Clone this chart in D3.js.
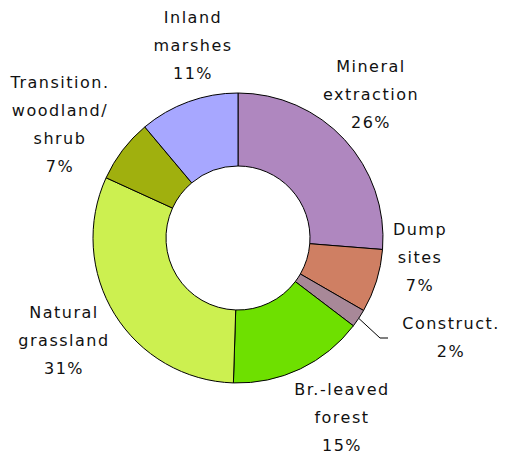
<!DOCTYPE html>
<html>
<head>
<meta charset="utf-8">
<script src="https://cdn.jsdelivr.net/npm/d3@7"></script>
<style>
  html, body { margin: 0; padding: 0; background: #fff; }
  svg { display: block; }
  text { font-family: "DejaVu Sans", Verdana, sans-serif; font-size: 16px; letter-spacing: 1.5px; fill: #111; }
</style>
</head>
<body>
<svg id="chart" width="506" height="456"></svg>
<script>
// Data
const categories = ["Mineral extraction", "Dump sites", "Construct.", "Br.-leaved forest", "Natural grassland", "Transition. woodland/shrub", "Inland marshes"];
const values = [26, 7, 2, 15, 31, 7, 11];
const labelLines = [
  ["Mineral", "extraction", "26%"],
  ["Dump", "sites", "7%"],
  ["Construct.", "2%"],
  ["Br.-leaved", "forest", "15%"],
  ["Natural", "grassland", "31%"],
  ["Transition.", "woodland/", "shrub", "7%"],
  ["Inland", "marshes", "11%"]
];
const colors = ["#AF87BF", "#CF7F63", "#A88898", "#6EE000", "#CCF050", "#A0B00E", "#A7A7FF"];

// Layout
const cx = 238, cy = 238, rOuter = 145, rInner = 72;
const lineH = 28;
// label anchor (center x, baseline of first line)
const labelPos = [
  [371, 72], [420, 235], [451, 329], [342, 395], [64, 318], [60, 88], [193, 23]
];

const svg = d3.select("#chart");
const g = svg.append("g").attr("transform", `translate(${cx},${cy})`);

const pie = d3.pie().sort(null).value(d => d).startAngle(0).endAngle(2 * Math.PI);
const arcs = pie(values);
const arc = d3.arc().innerRadius(rInner).outerRadius(rOuter);

g.selectAll("path.slice")
  .data(arcs)
  .join("path")
  .attr("class", "slice")
  .attr("d", arc)
  .attr("fill", (d, i) => colors[i])
  .attr("stroke", "#000")
  .attr("stroke-width", 1);

// Leader line for the small "Construct." slice
const ci = 2;
const a = (arcs[ci].startAngle + arcs[ci].endAngle) / 2;
const p0 = [cx + rOuter * Math.sin(a), cy - rOuter * Math.cos(a)];
svg.append("polyline")
  .attr("points", `${p0[0]},${p0[1]} 380,338 388,338`)
  .attr("fill", "none")
  .attr("stroke", "#000")
  .attr("stroke-width", 1);

// Labels
labelLines.forEach((lines, i) => {
  const t = svg.append("text")
    .attr("text-anchor", "middle")
    .attr("x", labelPos[i][0])
    .attr("y", labelPos[i][1]);
  lines.forEach((ln, j) => {
    t.append("tspan")
      .attr("x", labelPos[i][0])
      .attr("dy", j === 0 ? 0 : lineH)
      .text(ln);
  });
});
</script>
</body>
</html>
